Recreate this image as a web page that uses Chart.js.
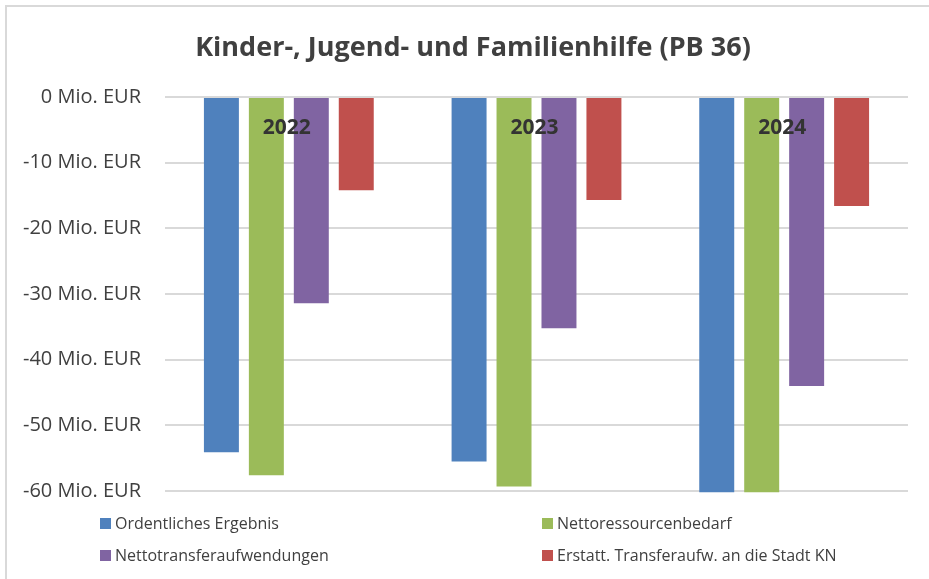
<!DOCTYPE html>
<html lang="de">
<head>
    <meta charset="UTF-8">
    <title>Kinder-, Jugend- und Familienhilfe (PB 36)</title>
    <script src="https://cdn.jsdelivr.net/npm/chart.js"></script>
    <style>
        body {
            margin: 0;
            background: #fff;
            font-family: 'Open Sans', sans-serif;
            color: #404040;
        }
        .frame {
            position: absolute;
            left: 5px;
            top: 5px;
            width: 940px;
            height: 600px;
            border: 2px solid #d9d9d9;
        }
        .wrap {
            position: relative;
            width: 929px;
            height: 579px;
            overflow: hidden;
        }
        canvas {
            position: absolute;
            left: 0;
            top: 0;
        }
        .title {
            position: absolute;
            top: 27px;
            left: 0;
            width: 946px;
            text-align: center;
            font-size: 27px;
            font-weight: bold;
            color: #404040;
        }
        .legend-item {
            position: absolute;
            font-size: 16px;
            color: #404040;
            display: flex;
            align-items: center;
            height: 22px;
            white-space: nowrap;
        }
        .legend-item span.box {
            display: inline-block;
            width: 11px;
            height: 11px;
            margin-right: 4px;
        }
    </style>
</head>
<body>
<div class="wrap">
    <div class="frame"></div>
    <canvas id="chart" width="929" height="579"></canvas>
    <div class="title">Kinder-, Jugend- und Familienhilfe (PB 36)</div>
    <div id="legend"></div>
</div>

<script>
    // data (Mio. EUR)
    const years = ['2022', '2023', '2024'];
    const seriesNames = ['Ordentliches Ergebnis', 'Nettoressourcenbedarf', 'Nettotransferaufwendungen', 'Erstatt. Transferaufw. an die Stadt KN'];
    const ordentlichesErgebnis = [-54.1, -55.5, -60.2];
    const nettoressourcenbedarf = [-57.6, -59.3, -60.2];
    const nettotransfer = [-31.4, -35.2, -44.0];
    const erstattTransfer = [-14.2, -15.7, -16.6];
    const yTicks = [0, -10, -20, -30, -40, -50, -60];

    const colors = ['#4F81BD', '#9BBB59', '#8064A2', '#C0504D'];
    const values = [ordentlichesErgebnis, nettoressourcenbedarf, nettotransfer, erstattTransfer];

    // year labels drawn inside the plot, just under the zero line
    const yearLabels = {
        id: 'yearLabels',
        afterDatasetsDraw(chart) {
            const ctx = chart.ctx;
            const x = chart.scales.x;
            const y = chart.scales.y;
            ctx.save();
            ctx.font = 'bold 21px "Open Sans"';
            ctx.fillStyle = '#333333';
            ctx.textAlign = 'center';
            ctx.textBaseline = 'middle';
            years.forEach((yr, i) => {
                ctx.fillText(yr, x.getPixelForValue(i) - 2, y.getPixelForValue(0) + 31);
            });
            ctx.restore();
        }
    };

    const chart = new Chart(document.getElementById('chart'), {
        type: 'bar',
        data: {
            labels: years,
            datasets: seriesNames.map((name, i) => ({
                label: name,
                data: values[i],
                backgroundColor: colors[i],
                borderWidth: 0,
                categoryPercentage: 0.726,
                barPercentage: 0.778,
                clip: false
            }))
        },
        options: {
            responsive: false,
            animation: false,
            layout: {
                padding: { top: 97, bottom: 88, right: 21, left: 0 }
            },
            plugins: {
                legend: { display: false },
                title: { display: false },
                tooltip: { enabled: false }
            },
            scales: {
                x: {
                    display: false,
                    grid: { display: false }
                },
                y: {
                    min: -60,
                    max: 0,
                    afterFit(scale) { scale.width = 165; },
                    afterBuildTicks(scale) {
                        scale.ticks = yTicks.map(v => ({ value: v }));
                    },
                    border: { display: false },
                    grid: {
                        color: '#d9d9d9',
                        lineWidth: 2,
                        drawTicks: false
                    },
                    ticks: {
                        padding: 24,
                        color: '#404040',
                        font: { family: 'Open Sans', size: 20 },
                        callback: v => v + ' Mio. EUR'
                    }
                }
            }
        },
        plugins: [yearLabels]
    });

    // legend in two columns below the plot
    const legendPos = [[100, 512], [542, 512], [100, 544], [542, 544]];
    const legend = document.getElementById('legend');
    seriesNames.forEach((name, i) => {
        const item = document.createElement('div');
        item.className = 'legend-item';
        item.style.left = legendPos[i][0] + 'px';
        item.style.top = legendPos[i][1] + 'px';
        item.innerHTML = '<span class="box" style="background:' + colors[i] + '"></span>' + name;
        legend.appendChild(item);
    });
</script>
</body>
</html>
